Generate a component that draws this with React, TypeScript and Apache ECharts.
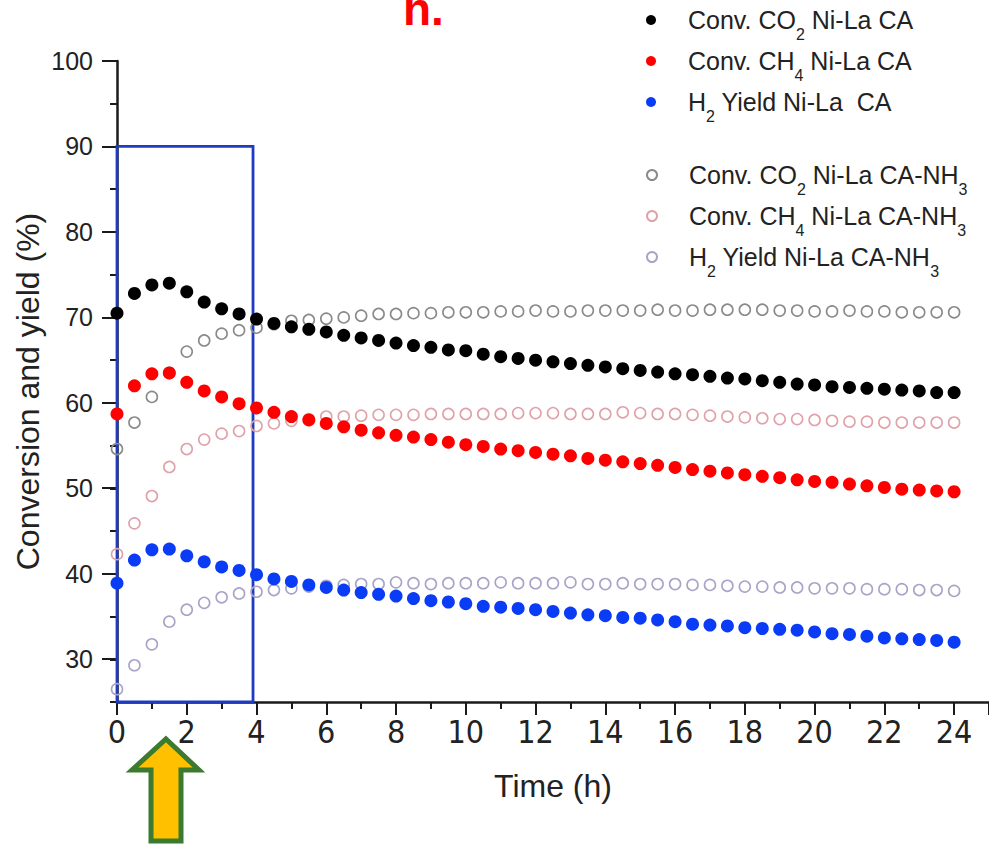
import React, { useEffect, useRef } from "react";
import * as echarts from "echarts";

const time = [
  0, 0.5, 1, 1.5, 2, 2.5, 3, 3.5, 4, 4.5, 5, 5.5, 6, 6.5, 7, 7.5, 8, 8.5, 9, 9.5,
  10, 10.5, 11, 11.5, 12, 12.5, 13, 13.5, 14, 14.5, 15, 15.5, 16, 16.5, 17, 17.5,
  18, 18.5, 19, 19.5, 20, 20.5, 21, 21.5, 22, 22.5, 23, 23.5, 24,
];

const co2CA = [
  70.5, 72.8, 73.8, 74.0, 73.0, 71.8, 71.0, 70.4, 69.8, 69.3, 68.9, 68.6, 68.3, 67.9,
  67.6, 67.3, 67.0, 66.7, 66.5, 66.2, 66.1, 65.7, 65.4, 65.2, 65.0, 64.8, 64.6, 64.4,
  64.2, 64.0, 63.8, 63.6, 63.4, 63.3, 63.1, 62.9, 62.8, 62.6, 62.4, 62.2, 62.1, 61.9,
  61.8, 61.7, 61.6, 61.5, 61.4, 61.2, 61.2,
];
const ch4CA = [
  58.7, 62.0, 63.4, 63.5, 62.4, 61.4, 60.7, 59.9, 59.4, 58.9, 58.4, 58.0, 57.6, 57.2,
  56.8, 56.5, 56.2, 56.0, 55.7, 55.4, 55.1, 54.9, 54.6, 54.4, 54.2, 54.0, 53.8, 53.5,
  53.3, 53.1, 52.9, 52.7, 52.45, 52.2, 52.0, 51.8, 51.6, 51.4, 51.25, 51.0, 50.8, 50.7,
  50.5, 50.3, 50.1, 49.9, 49.8, 49.7, 49.6,
];
const h2CA = [
  38.9, 41.6, 42.8, 42.9, 42.1, 41.4, 40.8, 40.4, 39.9, 39.4, 39.1, 38.7, 38.4, 38.1,
  37.8, 37.6, 37.4, 37.1, 36.85, 36.7, 36.5, 36.2, 36.1, 35.95, 35.8, 35.6, 35.4, 35.2,
  35.1, 34.9, 34.8, 34.6, 34.4, 34.1, 34.0, 33.9, 33.7, 33.6, 33.5, 33.4, 33.2, 33.0,
  32.9, 32.7, 32.5, 32.4, 32.3, 32.2, 32.0,
];
const co2NH3 = [
  54.6, 57.7, 60.7, 63.5, 66.0, 67.3, 68.1, 68.5, 68.8, 69.2, 69.6, 69.7, 69.85, 70.0,
  70.2, 70.4, 70.4, 70.5, 70.5, 70.6, 70.6, 70.6, 70.7, 70.7, 70.8, 70.7, 70.7, 70.8,
  70.8, 70.8, 70.8, 70.9, 70.8, 70.8, 70.9, 70.9, 70.9, 70.9, 70.8, 70.8, 70.7, 70.7,
  70.8, 70.7, 70.7, 70.6, 70.6, 70.6, 70.6,
];
const ch4NH3 = [
  42.3, 45.9, 49.1, 52.5, 54.6, 55.7, 56.4, 56.7, 57.3, 57.6, 57.9, 58.1, 58.4, 58.4,
  58.5, 58.6, 58.6, 58.6, 58.7, 58.7, 58.7, 58.7, 58.7, 58.8, 58.8, 58.8, 58.7, 58.7,
  58.7, 58.9, 58.8, 58.7, 58.7, 58.6, 58.5, 58.4, 58.3, 58.2, 58.1, 58.1, 58.0, 57.9,
  57.8, 57.8, 57.7, 57.7, 57.7, 57.7, 57.7,
];
const h2NH3 = [
  26.5, 29.3, 31.75, 34.4, 35.8, 36.6, 37.25, 37.7, 37.9, 38.1, 38.3, 38.5, 38.6, 38.7,
  38.8, 38.8, 39.0, 38.9, 38.8, 38.9, 38.9, 38.9, 39.0, 38.9, 38.9, 38.9, 39.0, 38.8,
  38.8, 38.9, 38.8, 38.8, 38.8, 38.7, 38.7, 38.6, 38.5, 38.5, 38.4, 38.4, 38.3, 38.3,
  38.3, 38.2, 38.2, 38.2, 38.1, 38.1, 38.0,
];

const seriesNames = [
  "Conv. CO2 Ni-La CA",
  "Conv. CH4 Ni-La CA",
  "H2 Yield Ni-La  CA",
  "Conv. CO2 Ni-La CA-NH3",
  "Conv. CH4 Ni-La CA-NH3",
  "H2 Yield Ni-La CA-NH3",
];
const legendRich: Record<string, string> = {
  "Conv. CO2 Ni-La CA": "Conv. CO{s|2} Ni-La CA",
  "Conv. CH4 Ni-La CA": "Conv. CH{s|4} Ni-La CA",
  "H2 Yield Ni-La  CA": "H{s|2} Yield Ni-La  CA",
  "Conv. CO2 Ni-La CA-NH3": "Conv. CO{s|2} Ni-La CA-NH{s|3}",
  "Conv. CH4 Ni-La CA-NH3": "Conv. CH{s|4} Ni-La CA-NH{s|3}",
  "H2 Yield Ni-La CA-NH3": "H{s|2} Yield Ni-La CA-NH{s|3}",
};

const FONT = "'Liberation Sans', Arial, Helvetica, sans-serif";
const AXIS = "#1a1a1a";
const TEXT = "#222222";

function pairs(vals: number[]) {
  return time.map((t, i) => [t, vals[i]]);
}

export default function App() {
  const ref = useRef<HTMLDivElement>(null);
  useEffect(() => {
    const chart = echarts.init(ref.current!, null, { renderer: "svg" });
    const legendBase = {
      orient: "vertical",
      left: 646,
      padding: 0,
      itemGap: -3,
      itemWidth: 12,
      itemHeight: 10,
      formatter: (n: string) => legendRich[n] || n,
      textStyle: {
        fontSize: 25,
        lineHeight: 44,
        fontFamily: FONT,
        color: TEXT,
        padding: [0, 0, 0, 26],
        rich: {
          s: { fontSize: 16, fontFamily: FONT, color: TEXT, verticalAlign: "bottom", lineHeight: 44 },
        },
      },
      selectedMode: false,
    };
    const openSeries = (name: string, vals: number[], color: string) => ({
      name,
      type: "scatter",
      xAxisIndex: 0,
      yAxisIndex: 0,
      data: pairs(vals),
      symbol: "circle",
      symbolSize: 11,
      itemStyle: { color: "rgba(255,255,255,0)", borderColor: color, borderWidth: 1.6, opacity: 1 },
    });
    const filledSeries = (name: string, vals: number[], color: string) => ({
      name,
      type: "scatter",
      xAxisIndex: 0,
      yAxisIndex: 0,
      data: pairs(vals),
      symbol: "circle",
      symbolSize: 13,
      itemStyle: { color, opacity: 1 },
    });
    const option: any = {
      animation: false,
      backgroundColor: "#ffffff",
      textStyle: { fontFamily: FONT },
      grid: [
        { left: 117, right: -4, top: 61, bottom: 143 },
        { left: 117, right: -4, top: 61, bottom: 186 },
      ],
      legend: [
        { ...legendBase, top: -2, data: seriesNames.slice(0, 3) },
        { ...legendBase, top: 153, data: seriesNames.slice(3, 6) },
      ],
      xAxis: [
        {
          gridIndex: 0,
          type: "value",
          min: 0,
          max: 25,
          interval: 2,
          name: "Time (h)",
          nameLocation: "middle",
          nameGap: 68,
          nameTextStyle: { fontSize: 32, color: TEXT, fontFamily: FONT },
          axisLine: { show: true, onZero: false, lineStyle: { color: AXIS, width: 2.5 } },
          axisTick: { show: true, length: 13, lineStyle: { color: AXIS, width: 2 } },
          minorTick: { show: true, splitNumber: 2, length: 7, lineStyle: { color: AXIS, width: 2 } },
          axisLabel: {
            fontSize: 32,
            fontFamily: "'Liberation Sans Narrow', 'DejaVu Sans Condensed', 'Liberation Sans', sans-serif",
            color: TEXT,
            margin: 14,
            showMaxLabel: false,
          },
          splitLine: { show: false },
          minorSplitLine: { show: false },
        },
        { gridIndex: 1, type: "value", min: 0, max: 25, show: false },
      ],
      yAxis: [
        {
          gridIndex: 0,
          type: "value",
          min: 25,
          max: 100,
          interval: 5,
          name: "Conversion and yield (%)",
          nameLocation: "middle",
          nameGap: 73,
          nameRotate: 90,
          nameTextStyle: { fontSize: 32, color: TEXT, fontFamily: FONT, padding: [0, 20, 0, 0] },
          axisLine: { show: true, onZero: false, lineStyle: { color: AXIS, width: 2.5 } },
          axisTick: { show: true, length: 7, lineStyle: { color: AXIS, width: 2 } },
          axisLabel: { show: false },
          splitLine: { show: false },
        },
        {
          gridIndex: 1,
          type: "value",
          min: 30,
          max: 100,
          interval: 10,
          axisLine: { show: false },
          axisTick: { show: true, length: 15, lineStyle: { color: AXIS, width: 2 } },
          axisLabel: { fontSize: 25, fontFamily: FONT, color: TEXT, margin: 24 },
          splitLine: { show: false },
        },
      ],
      series: [
        {
          ...openSeries(seriesNames[3], co2NH3, "#8a8a8a"),
          markArea: {
            silent: true,
            itemStyle: { color: "rgba(0,0,0,0)", borderColor: "#1f3cc0", borderWidth: 2.8, opacity: 1 },
            data: [[{ xAxis: 0, yAxis: 90 }, { xAxis: 3.9, yAxis: 25 }]],
          },
        },
        openSeries(seriesNames[4], ch4NH3, "#e0a2aa"),
        openSeries(seriesNames[5], h2NH3, "#a8a4c8"),
        filledSeries(seriesNames[0], co2CA, "#000000"),
        filledSeries(seriesNames[1], ch4CA, "#ff0000"),
        filledSeries(seriesNames[2], h2CA, "#0a3cf5"),
      ],
      graphic: [
        {
          type: "text",
          x: 403,
          y: 9,
          style: {
            text: "h.",
            fill: "#ff0000",
            fontSize: 46,
            fontWeight: "bold",
            fontFamily: FONT,
            verticalAlign: "middle",
          },
        },
        {
          type: "polygon",
          shape: {
            points: [
              [166, 739],
              [199, 770],
              [181, 770],
              [181, 841],
              [151, 841],
              [151, 770],
              [132, 770],
            ],
          },
          style: { fill: "#ffc000", stroke: "#3b7a2f", lineWidth: 5, lineJoin: "miter" },
        },
      ],
    };
    chart.setOption(option);
    return () => chart.dispose();
  }, []);
  return (
    <div
      ref={ref}
      style={{ position: "absolute", left: 0, top: 0, width: 989, height: 845 }}
    />
  );
}
